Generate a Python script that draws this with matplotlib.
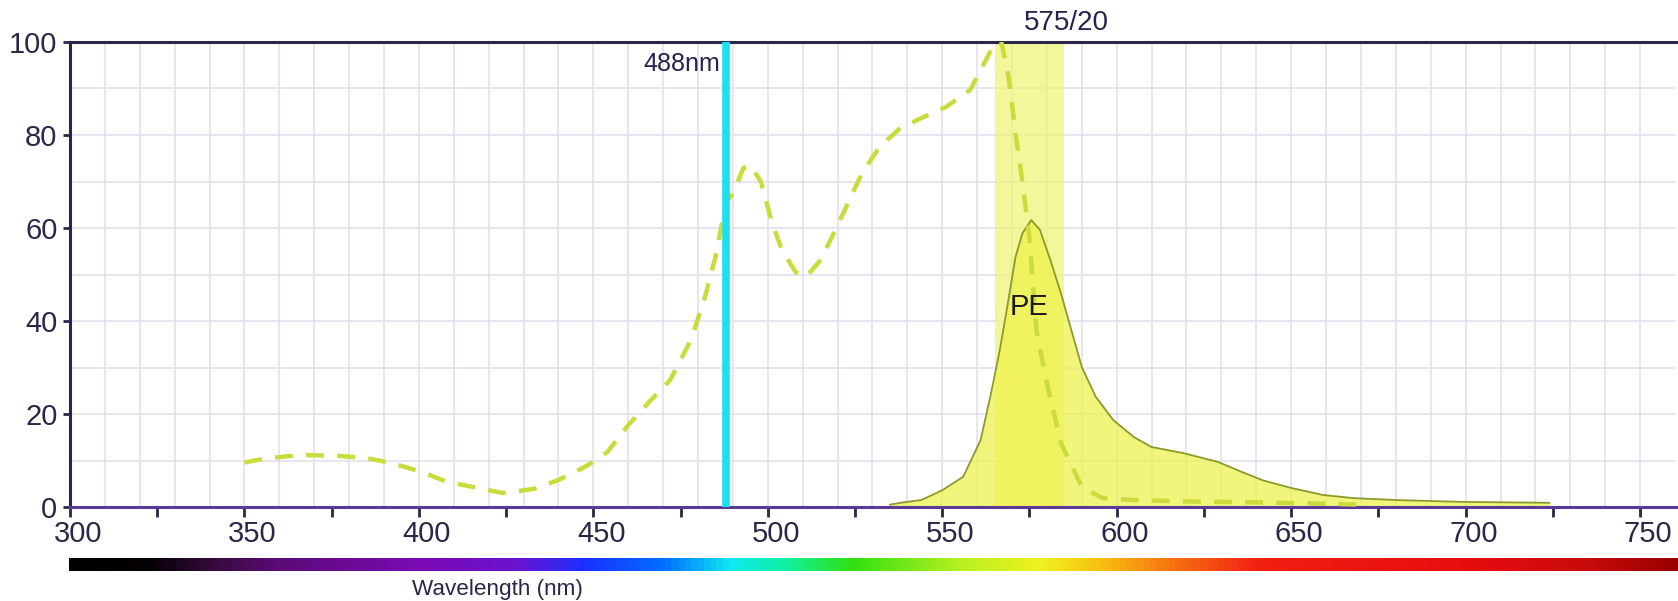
"""
PE 荧光光谱图：激发（虚线）+ 发射（填充）+ 488nm 激光 + 575/20 滤光片
"""

import numpy as np
import matplotlib
matplotlib.use("Agg")
import matplotlib.pyplot as plt
import matplotlib.transforms as mtransforms
from matplotlib.colors import LinearSegmentedColormap

plt.rcParams["font.family"] = ["Liberation Sans", "DejaVu Sans"]

# ===== 数据=====
# 激发谱（虚线）
ex_nm = [350, 356, 366, 377, 385, 392, 401, 408, 417, 424, 433, 440, 448, 454,
         460, 466, 472, 478, 482, 485, 488, 490, 493, 495, 498, 501, 504, 508,
         511, 515, 519, 523, 527, 532, 538, 545, 551, 558, 562, 565, 567, 569,
         571, 573, 575, 577, 580, 584, 590, 596, 605, 620, 640, 655, 670]
ex_val = [9.6, 10.4, 11.2, 11.0, 10.5, 9.5, 7.5, 5.4, 4.1, 3.0, 3.9, 5.8, 8.8, 11.8,
          17.6, 22.6, 27.3, 36.0, 45.2, 53.8, 65.4, 67.5, 72.9, 73.5, 70.0, 61.7, 55.3, 50.5,
          49.5, 53.0, 59.0, 65.4, 71.8, 77.4, 81.5, 84.0, 86.0, 89.7, 95.4, 99.8, 99.8, 92.5,
          80.4, 69.7, 58.0, 38.0, 26.6, 13.8, 4.3, 1.9, 1.5, 1.2, 1.0, 0.8, 0.5]

# 发射谱（实线填充）
em_nm = [535, 538, 544, 550, 556, 561, 564, 566.5, 568.5, 571, 573, 575.5, 578,
         581, 584, 587, 590, 594, 599, 605, 610, 619, 629, 636, 642, 650, 659,
         668, 680, 699, 724]
em_val = [0.5, 0.9, 1.5, 3.6, 6.5, 14.4, 24.5, 33.8, 42.4, 53.8, 58.9, 61.7, 59.6,
          53.1, 46.0, 38.0, 30.1, 23.7, 18.7, 15.0, 12.9, 11.6, 9.7, 7.5, 5.7, 4.1, 2.6,
          1.9, 1.5, 1.1, 0.9]

laser_nm = 488
filter_center, filter_width = 575, 20

# 底部光谱色条的锚点
bar_nm = [300, 322, 342, 360, 400, 428, 447, 470, 489, 505, 524, 555, 578, 595, 612,
          640, 700, 735, 760]
bar_colors = ["#000000", "#050005", "#3a0a40", "#5c0a78", "#7a0ab4", "#6a14d0",
              "#1a30ff", "#0070ff", "#10e8f0", "#10f0a0", "#30e010", "#b8f020",
              "#f0f020", "#f8c010", "#f88010", "#f02010", "#e80c10", "#c80a0a", "#9a0000"]

# ===== 画图 =====
fig = plt.figure(figsize=(16.78, 6.01), dpi=100)
ax = fig.add_axes([70 / 1678, 1 - 507 / 601, 1606 / 1678, 465 / 601])

x_lo, x_hi = 300, 760.3
ax.set_xlim(x_lo, x_hi)
ax.set_ylim(0, 100)

# 网格：竖线每 10nm，横线每 10
for g in np.arange(310, 760, 10):
    ax.axvline(g, color="#e2e0ee", lw=1.2, zorder=0)
for g in np.arange(10, 100, 10):
    ax.axhline(g, color="#e2e0ee", lw=1.2, zorder=0)

# 滤光片通带 575/20
ax.axvspan(filter_center - filter_width / 2, filter_center + filter_width / 2,
           color="#eef57a", alpha=0.75, lw=0, zorder=1)

# 发射谱
ax.fill_between(em_nm, em_val, color="#eef24a", alpha=0.72, lw=0, zorder=2)
ax.plot(em_nm, em_val, color="#8c9a2c", lw=1.3, zorder=3)

# 激发谱
ax.plot(ex_nm, ex_val, color="#c9dc3c", lw=3.2, dashes=(4, 3), zorder=4)

# 488nm 激光线
ax.axvline(laser_nm, color="#1ce0ee", lw=5.5, zorder=5)
ax.text(laser_nm - 1.8, 95.3, "488nm", ha="right", va="center", fontsize=18,
        color="#2a2050", zorder=6)
ax.text(585.5, 104, "575/20", ha="center", va="center", fontsize=20,
        color="#2a2050", clip_on=False)
ax.text(575, 43, "PE", ha="center", va="center", fontsize=21, color="#1a1a1a", zorder=6)

# 坐标轴样式
for side in ["left", "top"]:
    ax.spines[side].set_color("#2c2648")
    ax.spines[side].set_linewidth(2.2)
ax.spines["bottom"].set_color("#5a3a96")
ax.spines["bottom"].set_linewidth(2.2)
ax.spines["right"].set_visible(False)

xt = np.arange(300, 751, 25)
ax.set_xticks(xt)
ax.set_xticklabels([str(v) if v % 50 == 0 else "" for v in xt])
ax.set_yticks(np.arange(0, 101, 20))
ax.tick_params(axis="both", direction="out", colors="#2c2648", labelsize=21,
               width=2, labelcolor="#2c2648")
ax.tick_params(axis="x", length=7, pad=2)
ax.tick_params(axis="y", length=5, pad=4)
# 原图 x 轴刻度文字略向右偏
shift = mtransforms.ScaledTranslation(8 / 100, 0, fig.dpi_scale_trans)
for lab in ax.get_xticklabels():
    lab.set_transform(lab.get_transform() + shift)

# 底部光谱色条
cax = fig.add_axes([69 / 1678, 1 - 571 / 601, 1609 / 1678, 13 / 601])
pos = [(v - bar_nm[0]) / (bar_nm[-1] - bar_nm[0]) for v in bar_nm]
cmap = LinearSegmentedColormap.from_list("spec", list(zip(pos, bar_colors)))
grad = np.linspace(0, 1, 512).reshape(1, -1)
cax.imshow(grad, aspect="auto", cmap=cmap, extent=[bar_nm[0], bar_nm[-1], 0, 1])
cax.set_axis_off()

fig.text(497 / 1678, 1 - 590 / 601, "Wavelength (nm)", ha="center", va="center",
         fontsize=16.2, color="#2c2648")

fig.savefig("out.png", dpi=100)
